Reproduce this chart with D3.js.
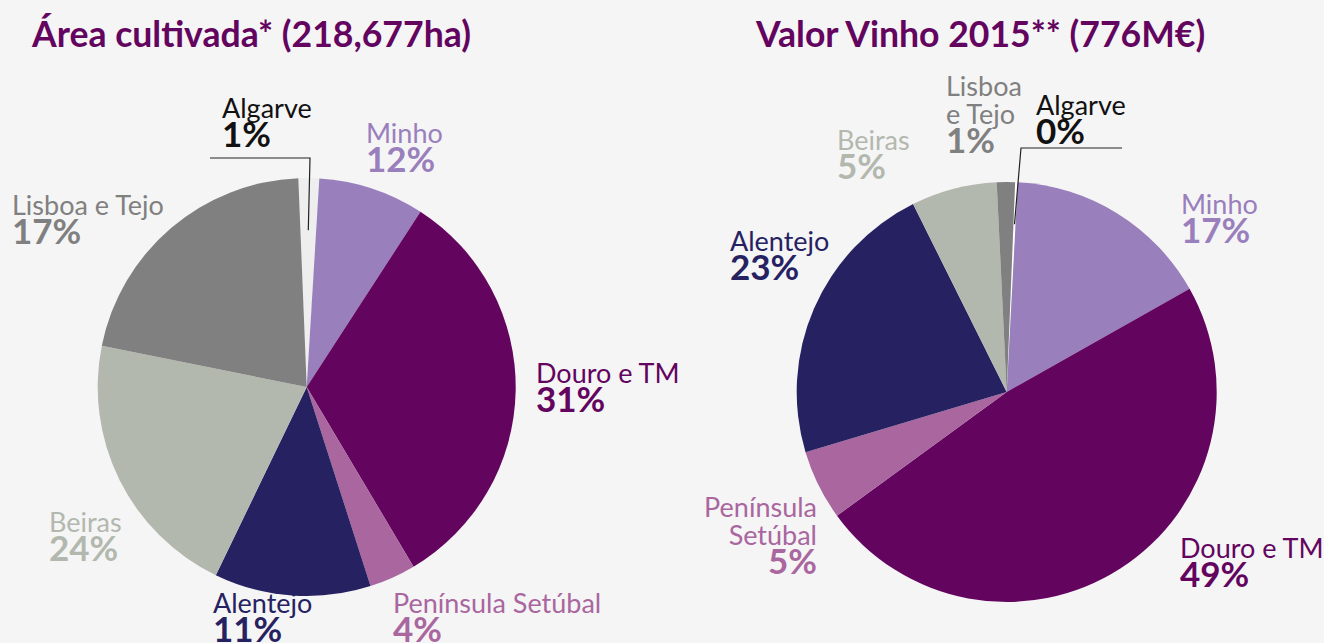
<!DOCTYPE html>
<html>
<head>
<meta charset="utf-8">
<script src="https://cdn.jsdelivr.net/npm/d3@7"></script>
<style>
  html, body { margin: 0; padding: 0; background: #f5f5f5; }
  svg { display: block; font-family: Lato, "Open Sans", sans-serif; }
</style>
</head>
<body>
<div id="chart"></div>
<script>

// regions in clockwise order, starting at the top
var regions = ["Algarve", "Minho", "Douro e TM", "Península Setúbal", "Alentejo", "Beiras", "Lisboa e Tejo"];
var colors  = ["#eeeeee", "#997fbc", "#63045f", "#a9669f", "#262262", "#b3b8af", "#808080"];
var labelColors = ["#111111", "#997fbc", "#63045f", "#a9669f", "#262262", "#b3b8af", "#808080"];

// share of each slice as drawn and the printed labels
var areaShare  = [1.6, 8.2, 32.3, 3.6, 12.1, 21.0, 21.2];
var areaLabels = ["1%", "12%", "31%", "4%", "11%", "24%", "17%"];
var valueShare  = [0.2, 16.0, 48.2, 5.4, 22.3, 6.6, 1.4];
var valueLabels = ["0%", "17%", "49%", "5%", "23%", "5%", "1%"];
var valueColors = ["#ffffff", "#997fbc", "#63045f", "#a9669f", "#262262", "#b3b8af", "#808080"];

var titles = ["Área cultivada* (218,677ha)", "Valor Vinho 2015** (776M€)"];

var width = 1324, height = 643;
var deg = Math.PI / 180;

var svg = d3.select('#chart').append('svg')
  .attr('width', width)
  .attr('height', height);

svg.append('rect')
  .attr('width', width)
  .attr('height', height)
  .attr('fill', '#f5f5f5');

var pieChart = function() {

  var cx = 0, cy = 0, radius = 200, start = 0,
      fills = colors, labelPos = [], leader = null;

  function chart(g, shares, labels) {
    var pie = d3.pie().sort(null).value(function(d) { return d; })
      .startAngle(start * deg).endAngle(start * deg + 2 * Math.PI);
    var arc = d3.arc().innerRadius(0).outerRadius(radius);
    var arcs = pie(shares);

    var body = g.append('g').attr('transform', 'translate(' + [cx, cy] + ')');
    body.selectAll('path')
      .data(arcs)
      .enter().append('path')
        .attr('d', arc)
        .attr('fill', function(d, i) { return fills[i]; });

    // leader line for the tiny Algarve slice
    if (leader) {
      var a = arcs[0], mid = (a.startAngle + a.endAngle) / 2,
          r = radius * leader.depth;
      var px = cx + Math.sin(mid) * r, py = cy - Math.cos(mid) * r;
      g.append('path')
        .attr('d', 'M' + leader.x0 + ',' + leader.y + 'H' + leader.x1 + 'L' + px + ',' + py)
        .attr('fill', 'none')
        .attr('stroke', '#222')
        .attr('stroke-width', 1.2);
    }

    var lab = g.selectAll('g.lab')
      .data(labelPos)
      .enter().append('g')
        .attr('class', 'lab')
        .attr('transform', function(p) { return 'translate(' + [p.x, p.y] + ')'; })
        .attr('fill', function(p) { return labelColors[p.i]; })
        .attr('text-anchor', function(p) { return p.anchor || 'start'; });

    lab.each(function(p) {
      var t = d3.select(this);
      var lines = p.name || [regions[p.i]];
      lines.forEach(function(line, k) {
        t.append('text')
          .attr('y', k * 28)
          .style('font-size', '27px')
          .text(line);
      });
      t.append('text')
        .attr('y', (lines.length - 1) * 28 + 29)
        .style('font-size', '35px')
        .style('font-weight', 'bold')
        .text(labels[p.i]);
    });
  }

  chart.center = function(x, y) { cx = x; cy = y; return chart; };
  chart.radius = function(v) { if (!arguments.length) return radius; radius = v; return chart; };
  chart.start = function(v) { start = v; return chart; };
  chart.fills = function(v) { fills = v; return chart; };
  chart.labels = function(v) { labelPos = v; return chart; };
  chart.leader = function(v) { leader = v; return chart; };

  return chart;
};

// titles
svg.selectAll('text.title')
  .data(titles)
  .enter().append('text')
    .attr('class', 'title')
    .attr('x', function(d, i) { return i ? 756 : 32; })
    .attr('y', 47)
    .attr('fill', '#63045f')
    .style('font-size', '35.6px')
    .style('font-weight', 'bold')
    .text(function(d) { return d; });

var left = pieChart()
  .center(306.7, 387)
  .radius(209)
  .start(-2.3)
  .leader({x0: 210, x1: 310, y: 158, depth: 0.75})
  .labels([
    {i: 0, x: 222, y: 118},
    {i: 1, x: 366, y: 143},
    {i: 2, x: 536, y: 383},
    {i: 3, x: 393, y: 613},
    {i: 4, x: 213, y: 613},
    {i: 5, x: 49,  y: 532},
    {i: 6, x: 12,  y: 215}
  ]);
left(svg.append('g'), areaShare, areaLabels);

var right = pieChart()
  .center(1006.7, 392)
  .radius(210)
  .start(2.3)
  .fills(valueColors)
  .leader({x0: 1122, x1: 1021, y: 148, depth: 0.8})
  .labels([
    {i: 0, x: 1036, y: 115},
    {i: 1, x: 1181, y: 214},
    {i: 2, x: 1180, y: 558},
    {i: 3, x: 817, y: 517, anchor: 'end', name: ['Península', 'Setúbal']},
    {i: 4, x: 730, y: 251},
    {i: 5, x: 837, y: 150},
    {i: 6, x: 946, y: 96, name: ['Lisboa', 'e Tejo']}
  ]);
right(svg.append('g'), valueShare, valueLabels);

</script>
</body>
</html>
